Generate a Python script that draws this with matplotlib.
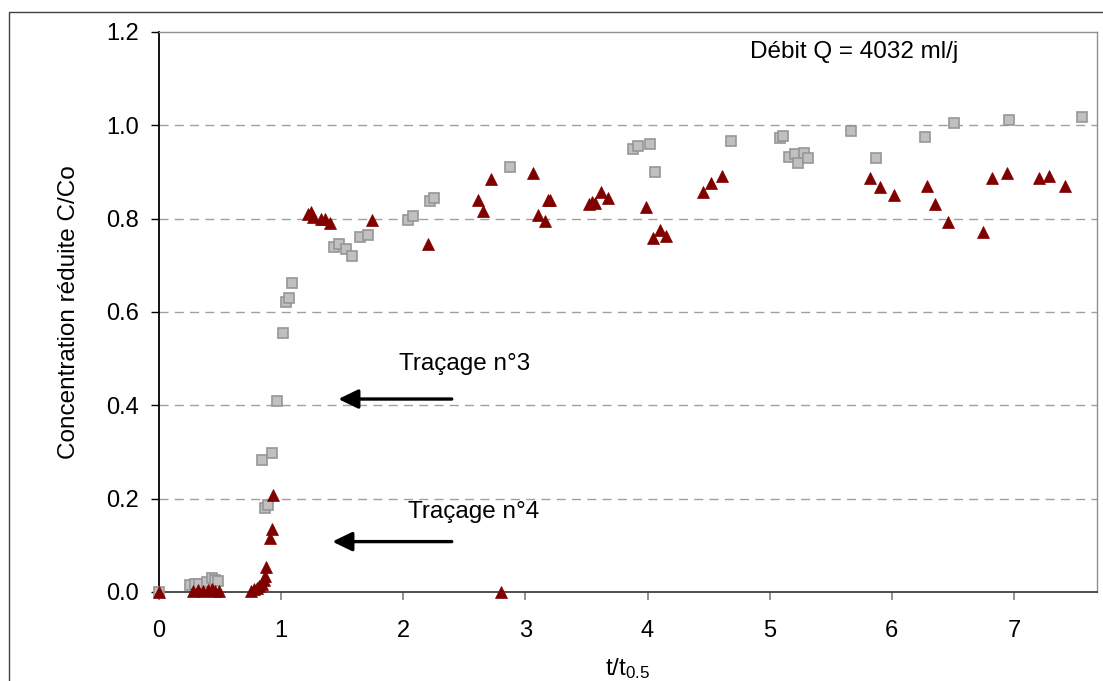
import matplotlib
matplotlib.use("Agg")
import matplotlib.pyplot as plt
from matplotlib.patches import Rectangle

plt.rcParams['font.family'] = ['Liberation Sans', 'DejaVu Sans']
plt.rcParams['mathtext.fontset'] = 'custom'
plt.rcParams['mathtext.rm'] = 'Liberation Sans'
plt.rcParams['mathtext.it'] = 'Liberation Sans'

# Traçage n°3 (grey squares)
x3 = [0.0, 0.254, 0.295, 0.33, 0.39, 0.43, 0.455, 0.48, 0.843, 0.865, 0.889, 0.922,
      0.968, 1.012, 1.037, 1.064, 1.088, 1.435, 1.473, 1.528, 1.582, 1.645, 1.71,
      2.04, 2.08, 2.218, 2.253, 2.875, 3.88, 3.925, 4.018, 4.065, 4.686, 5.082,
      5.11, 5.158, 5.205, 5.235, 5.28, 5.317, 5.663, 5.87, 6.268, 6.508, 6.956, 7.559]
y3 = [0.0, 0.015, 0.017, 0.017, 0.022, 0.029, 0.026, 0.024, 0.282, 0.181, 0.186, 0.298,
      0.41, 0.555, 0.621, 0.631, 0.663, 0.740, 0.745, 0.736, 0.720, 0.760, 0.765,
      0.797, 0.806, 0.838, 0.845, 0.911, 0.949, 0.956, 0.959, 0.899, 0.966, 0.973,
      0.978, 0.933, 0.938, 0.919, 0.941, 0.930, 0.988, 0.931, 0.976, 1.006, 1.011, 1.018]

# Traçage n°4 (dark red triangles)
x4 = [0.0, 0.28, 0.32, 0.36, 0.40, 0.43, 0.46, 0.49, 0.75, 0.78, 0.80, 0.82, 0.84,
      0.86, 0.87, 0.88, 0.911, 0.922, 0.935, 1.22, 1.241, 1.26, 1.33, 1.36, 1.40,
      1.743, 2.204, 2.61, 2.65, 2.72, 2.8, 3.066, 3.107, 3.159, 3.186, 3.205, 3.52,
      3.545, 3.57, 3.617, 3.68, 3.985, 4.045, 4.1, 4.149, 4.454, 4.517, 4.613, 5.82,
      5.903, 6.015, 6.285, 6.353, 6.46, 6.743, 6.817, 6.945, 7.207, 7.29, 7.42]
y4 = [0.0, 0.002, 0.004, 0.003, 0.005, 0.006, 0.003, 0.002, 0.003, 0.006, 0.008, 0.012,
      0.018, 0.025, 0.035, 0.053, 0.115, 0.136, 0.208, 0.811, 0.815, 0.804, 0.80,
      0.799, 0.79, 0.797, 0.746, 0.841, 0.817, 0.884, 0.0, 0.898, 0.808, 0.795, 0.841,
      0.841, 0.831, 0.836, 0.833, 0.858, 0.845, 0.824, 0.759, 0.776, 0.763, 0.858,
      0.877, 0.891, 0.888, 0.868, 0.851, 0.87, 0.831, 0.792, 0.772, 0.888, 0.897,
      0.888, 0.891, 0.87]

yticks = [0.0, 0.2, 0.4, 0.6, 0.8, 1.0, 1.2]
xticks = [0, 1, 2, 3, 4, 5, 6, 7]

W, H = 1103, 681
fig = plt.figure(figsize=(W / 100, H / 100), dpi=100)
ax = fig.add_axes([159 / W, 1 - 592 / H, (1097 - 159) / W, (592 - 32) / H])

# outer chart border
fig.patches.append(Rectangle((9 / W, -0.1), 1.2, (H - 12) / H + 0.1,
                             transform=fig.transFigure, fill=False,
                             edgecolor='#404040', lw=1.0))

ax.set_xlim(0, 7.68)
ax.set_ylim(0, 1.2)

for v in yticks[1:-1]:
    ax.axhline(v, color='#a0a0a0', lw=1.0, ls=(0, (6.5, 4.5)), zorder=1)

ax.plot(x3, y3, ls='none', marker='s', ms=6.8, mfc='#c0c0c0', mec='#969696',
        mew=1.2, clip_on=False, zorder=3)
ax.plot(x4, y4, ls='none', marker='^', ms=9, mfc='#800000', mec='#800000',
        mew=0.5, clip_on=False, zorder=4)

ax.set_yticks(yticks)
ax.set_yticklabels([f"{v:.1f}" for v in yticks])
ax.set_xticks(xticks)
ax.set_xticklabels([str(v) for v in xticks])

ax.tick_params(axis='y', direction='out', length=6, width=1, color='black',
               labelsize=17, pad=8.5)
ax.tick_params(axis='x', direction='out', length=6, width=1.2, color='#808080',
               labelsize=17, pad=14)

ax.spines['left'].set_color('black')
ax.spines['left'].set_linewidth(1.3)
ax.spines['bottom'].set_color('#404040')
ax.spines['bottom'].set_linewidth(1.3)
ax.spines['top'].set_color('#909090')
ax.spines['right'].set_color('#909090')
ax.spines['top'].set_linewidth(1.0)
ax.spines['right'].set_linewidth(1.0)

ax.set_ylabel('Concentration réduite C/Co', fontsize=17.5, labelpad=19)
ax.set_xlabel(r'$\mathrm{t/t_{0.5}}$', fontsize=17.5, labelpad=10)

ax.text(4.84, 1.157, 'Débit Q = 4032 ml/j', fontsize=17.5, ha='left', va='center')
ax.text(1.966, 0.4885, 'Traçage n°3', fontsize=17.5, ha='left', va='center')
ax.text(2.037, 0.1714, 'Traçage n°4', fontsize=17.5, ha='left', va='center')

arrow = dict(arrowstyle='-|>,head_length=1.2,head_width=0.58', lw=2.4,
             color='black', mutation_scale=10, shrinkA=0, shrinkB=0)
ax.annotate('', xy=(1.468, 0.4135), xytext=(2.397, 0.4135), arrowprops=arrow)
ax.annotate('', xy=(1.419, 0.108), xytext=(2.397, 0.108), arrowprops=arrow)

fig.savefig('out.png', dpi=100)
